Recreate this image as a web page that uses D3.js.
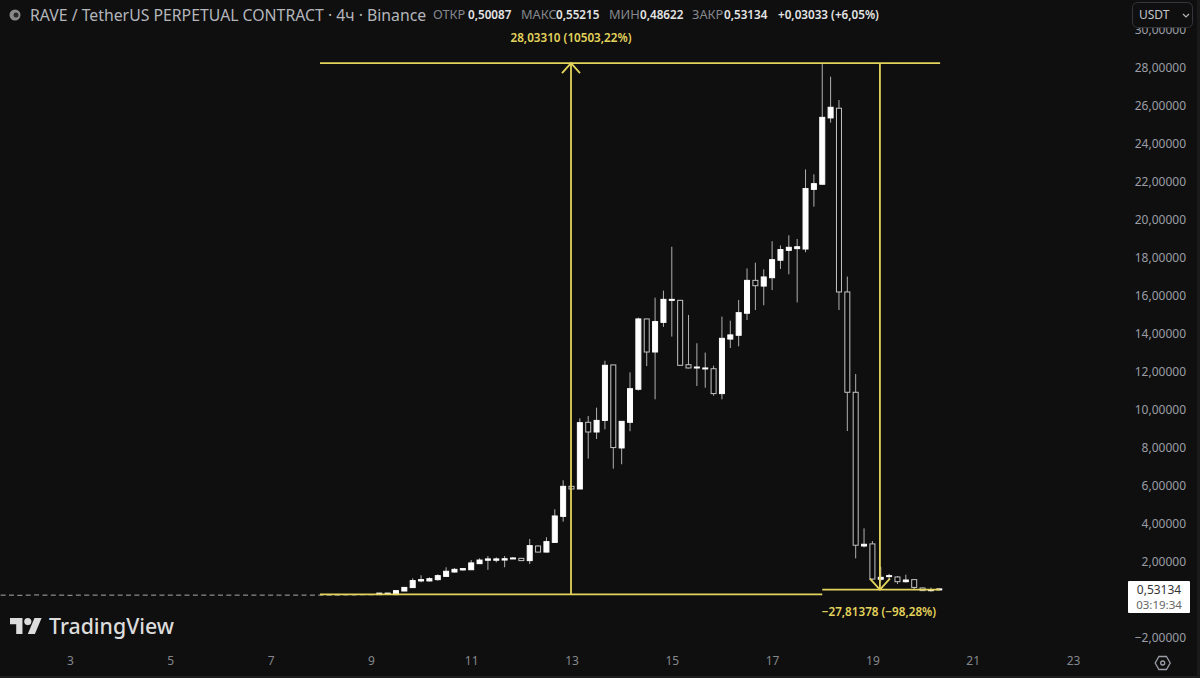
<!DOCTYPE html>
<html><head><meta charset="utf-8">
<script src="https://cdn.jsdelivr.net/npm/d3@7"></script>
<style>
html,body{margin:0;padding:0;background:#0f0f0f;overflow:hidden}
svg{display:block}
text{font-family:"Noto Sans",sans-serif}
</style></head><body>
<svg id="c" width="1200" height="678"></svg>
<script>
// first candle of the series, in days of the month; one candle every 4 hours
const firstDay = 1 + 4/6;
const candlesPerDay = 6;
const flatCloses = [0.23,0.23,0.22,0.23,0.24,0.23,0.23,0.23,0.22,0.23,0.23,0.23,0.23,0.23,0.23,0.23,0.23,0.23,0.23,0.23,0.23,0.23,0.23,0.23,0.23,0.23,0.23,0.23,0.23,0.23,0.23,0.23,0.23,0.23,0.23,0.23,0.23,0.23,0.23,0.23,0.23,0.24,0.24,0.25,0.25];
const opens = [0.23,0.24,0.23,0.42,0.60,0.95,0.95,1.02,1.19,1.42,1.53,1.54,1.86,2.04,2.04,2.05,2.12,2.14,2.02,2.79,2.47,2.98,4.35,5.93,5.79,9.30,8.79,9.40,12.32,7.95,9.30,11.04,14.74,13.00,14.56,15.74,15.72,12.33,12.16,12.11,12.12,10.81,13.68,13.88,15.04,16.77,16.47,16.91,17.83,18.35,18.44,18.42,21.56,21.83,25.32,25.83,16.16,10.88,2.79,2.90,1.04,1.18,1.16,0.91,1.02,0.58,0.44,0.50087];
const highs = [0.32,0.32,0.44,0.62,1.09,1.25,1.14,1.30,1.67,1.63,1.63,2.05,2.14,2.26,2.19,2.26,2.21,2.16,3.16,2.81,3.25,4.72,6.25,5.95,9.51,9.63,10.07,12.54,12.32,9.35,11.93,14.81,14.74,15.86,16.23,18.54,15.74,14.95,13.46,12.97,12.28,14.86,14.65,15.74,17.40,17.70,17.35,18.83,18.61,19.14,18.95,22.61,22.35,28.20,27.49,26.26,16.97,11.84,3.72,3.05,1.70,1.32,1.21,1.28,1.02,0.60,0.60,0.55215];
const lows = [0.22,0.22,0.22,0.42,0.60,0.88,0.93,0.96,1.19,1.39,1.49,1.54,1.84,1.53,1.93,1.67,2.11,2.00,1.84,2.45,2.45,2.95,4.07,5.77,5.79,7.39,8.42,8.93,6.86,7.09,8.83,10.97,12.26,10.51,14.32,13.81,12.28,12.14,11.21,11.12,10.70,10.51,13.21,13.30,14.68,15.21,15.46,16.26,17.37,17.09,15.61,18.25,20.65,21.80,25.07,15.21,8.84,2.14,2.72,1.00,0.91,1.00,0.79,0.86,0.47,0.42,0.39,0.48622];
const closes = [0.31,0.31,0.44,0.61,0.97,1.02,1.07,1.23,1.46,1.56,1.60,1.90,2.05,2.11,2.11,2.12,2.16,2.02,2.81,2.47,3.02,4.37,5.93,5.79,9.28,8.79,9.40,12.30,7.97,9.35,11.07,14.74,13.00,14.60,15.77,15.77,12.30,12.16,12.21,12.16,10.81,13.72,13.90,15.07,16.77,16.49,16.95,17.86,18.39,18.51,18.54,21.60,21.86,25.35,25.88,16.16,10.88,2.83,2.88,1.05,1.14,1.23,0.91,1.00,0.61,0.44,0.49,0.53134];

const yTicks = [-2,2,4,6,8,10,12,14,16,18,20,22,24,26,28,30];
const xTicks = [3,5,7,9,11,13,15,17,19,21,23];

// measure annotations in data space: [day, price]
const upStart = 0.24, upEnd = 28.20, downEnd = 0.49;
const upLineDays = [7.985, 18.0];
const topLineDays = [7.985, 20.35];
const downLineDays = [18.0, 20.35];
const upArrowDay = 12.99, downArrowDay = 19.15;
const upLabel = "28,03310 (10503,22%)";
const downLabel = "−27,81378 (−98,28%)";
const lastPrice = "0,53134", countdown = "03:19:34";
const titleText = "RAVE / TetherUS PERPETUAL CONTRACT · 4ч · Binance";
const ohlcLabels = [["ОТКР","0,50087",433],["МАКС","0,55215",521],["МИН","0,48622",609],["ЗАКР","0,53134",692]];
const ohlcValueX = [468,556,640,724];
const changeText = "+0,03033 (+6,05%)";

const BG="#0f0f0f", YEL="#e4d45c", AXC="#9b9ea6";
const svg=d3.select("#c");
svg.append("rect").attr("width",1200).attr("height",678).attr("fill",BG);

const x=d3.scaleLinear().domain([3,23]).range([70,1073]);
const y=d3.scaleLinear().domain([0,28]).range([599,67]);
const fmt=d3.formatLocale({decimal:",",thousands:" ",grouping:[3],currency:["",""],minus:"−"}).format(".5f");

// axes
const yG=svg.append("g").attr("transform","translate(1186,1)")
  .call(d3.axisLeft(y).tickValues(yTicks).tickFormat(fmt).tickSize(0).tickPadding(0));
yG.select(".domain").remove();
yG.selectAll("text").attr("fill",AXC).attr("font-size",12).style("font-family",'"Noto Sans"');
const xG=svg.append("g").attr("transform","translate(0,656)")
  .call(d3.axisBottom(x).tickValues(xTicks).tickFormat(d3.format("d")).tickSize(0).tickPadding(0));
xG.select(".domain").remove();
xG.selectAll("text").attr("fill","#85878c").attr("font-size",12).style("font-family",'"Noto Sans"');

// candles
const flat=flatCloses.map(c=>({o:c,h:c,l:c,c,flat:true}));
const live=opens.map((o,i)=>({o,h:highs[i],l:lows[i],c:closes[i]}));
const data=flat.concat(live).map((d,i)=>({...d,day:firstDay+i/candlesPerDay}));
const gc=svg.append("g");
const w=5;
gc.selectAll("line").data(live.length?data.filter(d=>!d.flat):[]).join("line")
 .attr("x1",d=>x(d.day)).attr("x2",d=>x(d.day)).attr("y1",d=>y(d.h)).attr("y2",d=>y(d.l))
 .attr("stroke","#b0b0b0").attr("stroke-width",1);
gc.selectAll("rect").data(data).join("rect")
 .attr("x",d=>x(d.day)-w/2).attr("width",w)
 .attr("y",d=>y(Math.max(d.o,d.c))).attr("height",d=>Math.max(1,Math.abs(y(d.o)-y(d.c))))
 .attr("fill",d=>d.flat?"#a8a8a8":d.c>=d.o?"#fff":"#0a0a0a")
 .attr("stroke",d=>d.flat?"none":d.c>=d.o?"#fff":"#c4c4c4").attr("stroke-width",1);

// measure tools
const ga=svg.append("g").attr("stroke",YEL).attr("stroke-width",1.8).attr("fill","none");
const hl=(days,p)=>ga.append("line").attr("x1",x(days[0])).attr("x2",x(days[1])).attr("y1",y(p)).attr("y2",y(p));
hl(topLineDays,upEnd); hl(upLineDays,upStart); hl(downLineDays,downEnd);
const vl=(d,a,b)=>ga.append("line").attr("x1",x(d)).attr("x2",x(d)).attr("y1",y(a)).attr("y2",y(b));
vl(upArrowDay,upStart,upEnd); vl(downArrowDay,upEnd,downEnd);
const line=d3.line();
const ax=x(upArrowDay), ay=y(upEnd), bx=x(downArrowDay), by=y(downEnd);
ga.append("path").attr("d",line([[ax-9,ay+10],[ax,ay],[ax+9,ay+10]]));
ga.append("path").attr("d",line([[bx-10,by-11],[bx,by],[bx+10,by-11]]));
svg.append("text").attr("x",ax).attr("y",42).attr("text-anchor","middle").attr("fill",YEL).attr("font-size",11.7).attr("font-weight",600).text(upLabel);
svg.append("text").attr("x",bx-1).attr("y",616).attr("text-anchor","middle").attr("fill",YEL).attr("font-size",11.7).attr("font-weight",600).text(downLabel);

// header
svg.append("rect").attr("x",1125).attr("width",75).attr("height",28).attr("fill",BG);
svg.append("circle").attr("cx",15).attr("cy",15).attr("r",5.5).attr("fill","#8a8a8a");
svg.append("circle").attr("cx",16).attr("cy",15).attr("r",2.5).attr("fill","#2a2a2a");
svg.append("text").attr("x",30).attr("y",20.5).attr("fill","#b4b6bc").attr("font-size",15.8).text(titleText);
ohlcLabels.forEach(([k,v,px],i)=>{
  svg.append("text").attr("x",px).attr("y",19).attr("fill","#85878c").attr("font-size",12.8).text(k);
  svg.append("text").attr("x",ohlcValueX[i]).attr("y",19).attr("fill","#e4e4e4").attr("font-size",11.7).attr("font-weight",600).text(v);
});
svg.append("text").attr("x",778).attr("y",19).attr("fill","#e4e4e4").attr("font-size",11.7).attr("font-weight",600).text(changeText);

// currency box
svg.append("rect").attr("x",1132.5).attr("y",2.5).attr("width",60).attr("height",25).attr("rx",5).attr("fill",BG).attr("stroke","#34363c");
svg.append("text").attr("x",1139).attr("y",19).attr("fill","#c4c6cc").attr("font-size",12).text("USDT");
svg.append("path").attr("d",line([[1183,14],[1186,17],[1189,14]])).attr("fill","none").attr("stroke","#b4b6bc").attr("stroke-width",1.2);

// last price
svg.append("rect").attr("x",1128).attr("y",581).attr("width",62).attr("height",32).attr("rx",1).attr("fill","#fff");
svg.append("text").attr("x",1159).attr("y",593.5).attr("text-anchor","middle").attr("fill","#333").attr("font-size",12).text(lastPrice);
svg.append("text").attr("x",1159).attr("y",608.5).attr("text-anchor","middle").attr("fill","#666").attr("font-size",11.5).text(countdown);

// logo
const logo=svg.append("g").attr("transform","translate(10,614.5) scale(0.89)").attr("fill","#dcdcdc");
logo.append("path").attr("d","M14 22H7V11H0V4h14v18ZM28 22h-8l7.5-18h8L28 22Z");
logo.append("circle").attr("cx",20).attr("cy",8).attr("r",4);
svg.append("text").attr("x",49).attr("y",634).attr("fill","#dcdcdc").attr("font-size",21.3).attr("font-weight",500).text("TradingView");

// settings icon
const R=7.5,cx=1162.7,cy=663;
svg.append("path").attr("d",d3.lineRadial().curve(d3.curveLinearClosed)(d3.range(6).map(i=>[i*Math.PI/3+Math.PI/6,R])))
  .attr("transform",`translate(${cx},${cy})`).attr("fill","none").attr("stroke","#9b9ea6").attr("stroke-width",1.3);
svg.append("circle").attr("cx",cx).attr("cy",cy).attr("r",2).attr("fill","none").attr("stroke","#9b9ea6").attr("stroke-width",1.3);

// frame
svg.append("rect").attr("x",0).attr("y",676).attr("width",1200).attr("height",2).attr("fill","#1e1e1e");
svg.append("rect").attr("x",1197).attr("y",0).attr("width",3).attr("height",678).attr("fill","#1a1a1a");
</script>
</body></html>
